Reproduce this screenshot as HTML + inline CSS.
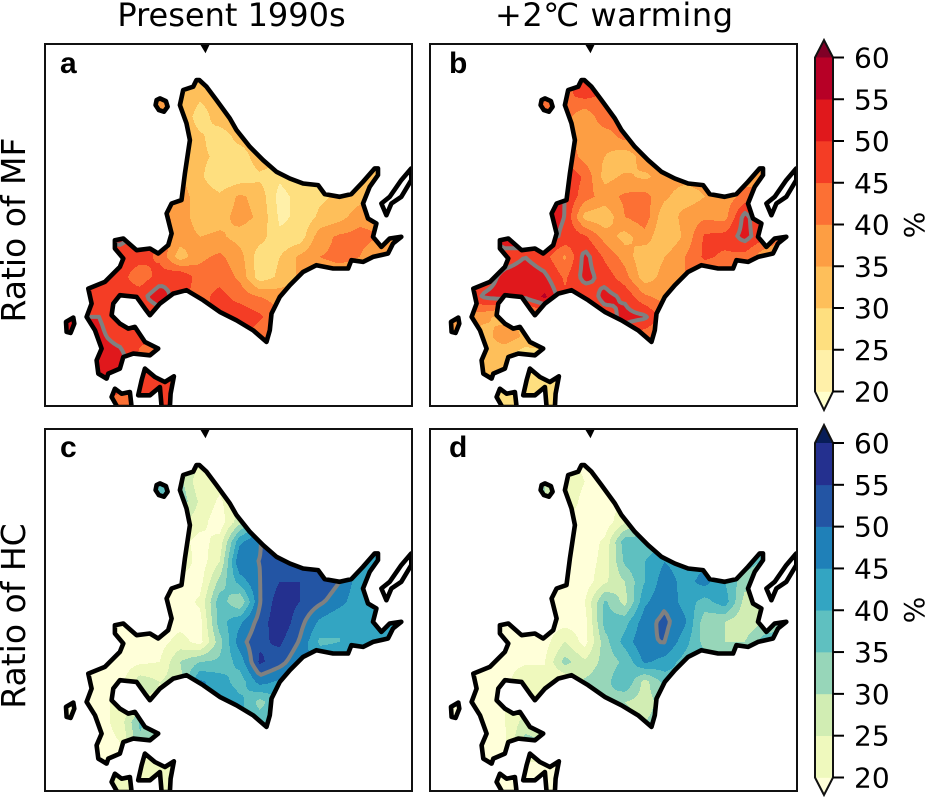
<!DOCTYPE html>
<html lang="en">
<head>
<meta charset="utf-8">
<title>Ratio of MF and HC, Present 1990s and +2°C warming</title>
<style>
html,body{margin:0;padding:0;background:#fff;width:925px;height:797px;overflow:hidden}
svg{display:block}
text{font-family:"DejaVu Sans","Liberation Sans",sans-serif;fill:#000}
</style>
</head>
<body>
<svg id="chart" xmlns="http://www.w3.org/2000/svg" width="925" height="797" viewBox="0 0 925 797">
  <text x="231.5" y="26" font-size="32" text-anchor="middle">Present 1990s</text>
  <text x="614" y="26" font-size="32" text-anchor="middle" textLength="238" lengthAdjust="spacing">+2℃ warming</text>
  <text transform="translate(25,230) rotate(-90)" font-size="33" text-anchor="middle">Ratio of MF</text>
  <text transform="translate(25,616) rotate(-90)" font-size="33" text-anchor="middle">Ratio of HC</text>
</svg>
<script>
// Grid axes of the gridded percentage fields (map units)
const gridOriginX = 120, gridStepX = 60;
const gridOriginY = 110, gridStepY = 60;

// Panel a: Ratio of MF, present 1990s (%)
const fieldA = [
[38,38,38,38,36,36,33,33,33,33,33,33,33,33,33,33,33],
[38,38,38,38,38,36,31,33,33,33,33,33,33,33,33,33,33],
[38,38,38,38,38,35,27,33,34,34,33,33,33,33,33,33,33],
[40,40,40,40,38,35,31,27,32,33,33,33,33,33,33,33,33],
[42,42,42,42,38,35,31,29,27,33,33,33,33,33,33,33,33],
[44,44,44,42,38,36,31,26,27,29,26,29,31,33,33,33,33],
[46,46,46,44,40,37,33,31,36,33,23,27,29,31,33,34,34],
[48,48,48,46,42,38,32,33,37,34,24,26,31,33,38,38,38],
[50,50,52,48,44,38,35,36,33,32,26,27,38,41,42,40,38],
[48,48,47,47,44,32,39,41,37,27,30,36,40,41,40,35,34],
[48,48,47,42,47,50,42,43,39,27,31,36,38,38,38,36,36],
[49,49,47,48,54,46,43,47,43,40,38,38,38,38,38,38,38],
[50,50,46,44,46,44,44,46,49,46,40,38,38,38,38,38,38],
[51,51,48,46,44,44,44,46,48,41,40,38,38,38,38,38,38],
[53,53,52,44,44,44,44,44,44,40,38,38,38,38,38,38,38],
[53,53,49,46,46,44,44,44,44,40,38,38,38,38,38,38,38],
[46,46,44,46,46,44,44,44,44,40,38,38,38,38,38,38,38],
[46,46,44,46,46,44,44,44,44,40,38,38,38,38,38,38,38]
];

// Panel b: Ratio of MF, +2C warming (%)
const fieldB = [
[40,40,40,40,40,44,48,46,44,40,38,38,38,38,38,38,38],
[40,40,40,40,40,44,46,44,42,40,38,38,38,38,38,38,38],
[40,40,40,40,40,42,36,44,42,40,38,38,38,38,38,38,38],
[40,40,40,40,42,42,37,37,42,40,38,38,38,38,38,38,38],
[42,42,42,42,44,44,38,35,31,38,38,38,38,38,38,38,38],
[44,44,44,44,50,50,44,33,36,34,37,37,37,37,38,38,38],
[46,46,46,48,52,50,42,38,41,42,36,32,35,37,42,42,42],
[46,46,46,48,52,50,33,31,40,43,31,37,39,38,52,44,42],
[48,48,54,50,52,49,46,38,33,38,30,36,46,47,52,46,40],
[46,46,47,50,47,39,52,44,38,31,35,40,46,44,43,36,34],
[46,47,52,53,51,44,52,48,42,32,37,40,40,40,40,36,34],
[46,51,52,51,56,46,46,52,49,41,38,38,38,38,38,36,34],
[38,36,33,35,40,44,44,47,52,51,42,38,38,38,38,36,34],
[34,33,38,34,34,38,42,44,46,41,40,38,38,38,38,36,34],
[34,34,30,26,28,30,32,34,36,38,38,38,38,38,38,36,34],
[32,32,30,28,28,28,28,30,32,34,36,36,36,36,36,36,34],
[28,28,28,30,27,27,28,30,32,34,36,36,36,36,36,36,34],
[28,28,28,30,27,27,28,30,32,34,36,36,36,36,36,36,34]
];

// Panel c: Ratio of HC, present 1990s (%)
const fieldC = [
[38,38,38,38,38,30,26,26,28,30,40,44,44,44,44,44,44],
[38,38,38,38,38,32,21,22,26,32,40,44,44,44,44,44,44],
[38,38,38,38,38,34,24,19,26,36,44,46,46,46,46,46,46],
[30,30,30,30,28,26,22,17,28,42,48,48,48,48,48,48,48],
[22,22,22,22,22,22,18,22,44,50,50,50,50,50,48,46,44],
[18,18,18,18,20,25,17,25,50,50,52,53,52,50,46,44,42],
[18,18,18,18,18,17,18,32,42,50,55,55,54,50,42,41,41],
[18,18,18,18,18,17,21,38,30,50,58,55,51,47,41,40,40],
[18,18,18,18,18,18,18,38,44,52,59,52,44,40,41,40,40],
[18,18,18,18,18,22,18,33,48,54,56,49.5,39,40,42,42,42],
[18,18,17,19,20,30,35,36,42,56,52,46,44,44,44,42,42],
[18,18,18,28,25,28,46,43,37,47,44,44,44,44,44,42,42],
[20,20,20,24,24,34,44,46,42,33,40,42,42,42,42,42,42],
[18,18,22,36,30,34,42,44,40,38,38,38,38,38,38,38,38],
[18,18,20,34,32,30,36,38,38,36,36,36,36,36,36,36,36],
[18,18,19,22,24,26,30,32,34,34,34,34,34,34,34,34,34],
[20,20,22,23,23,24,28,30,32,34,34,34,34,34,34,34,34],
[20,20,22,23,23,24,28,30,32,34,34,34,34,34,34,34,34]
];

// Panel d: Ratio of HC, +2C warming (%)
const fieldD = [
[30,30,30,30,30,24,18,18,20,24,30,34,34,34,34,34,34],
[30,30,30,30,30,24,20,20,22,26,32,36,36,36,36,36,36],
[30,30,30,30,30,24,18,18,20,30,34,38,38,38,38,38,38],
[24,24,24,24,22,20,17,17,24,32,36,38,38,38,38,38,38],
[18,18,18,18,18,18,17,21,38,37,38,40,40,40,38,36,36],
[18,18,18,18,18,18,17,22,36,40,45,42,44,42,38,34,34],
[18,18,18,18,18,18,17,24,30,40,48,43,47,40,32,30,30],
[18,18,18,18,18,17,20,36,28,44,49,43,38,43,28,28,28],
[18,18,18,18,18,18,18,37,38,48,51.5,46,32,30,26,30,32],
[18,18,18,17,18,25,18,33,42,49.5,50.2,42,33,30,30,38,40],
[18,18,18,19,20,32,26,32,36,46,43,38,38,38,38,38,38],
[18,18,18,25,20,20,31,33,40,28,37,38,38,38,38,38,38],
[20,20,20,22,22,26,32,35,30,28,32,36,36,36,36,36,36],
[18,18,20,27,26,28,32,34,32,30,32,34,34,34,34,34,34],
[18,18,19,32,30,28,30,30,30,30,30,30,30,30,30,30,30],
[18,18,18,20,20,20,22,24,26,26,28,28,28,28,28,28,28],
[18,18,18,19,19,20,22,24,26,26,28,28,28,28,28,28,28],
[18,18,18,19,19,20,22,24,26,26,28,28,28,28,28,28,28]
];

// Colour scale: contour levels, tick labels and palettes
const levels = [20,25,30,35,40,45,50,55,60];
const tickLabels = ["20","25","30","35","40","45","50","55","60"];
const contourLevel = 50;
const paletteMF = ["#ffffcc","#fff0a9","#fedf7f","#febf5a","#fd9e43","#fc7034","#f43d25","#e0181c","#b70026","#800026"];
const paletteHC = ["#ffffd9","#eff9bd","#d1edb3","#97d6b9","#5fc0c0","#33a5c2","#1f80b8","#2355a4","#24308f","#081d58"];

// Coastlines (map units)
const coastMain = [[478,120],[500,140],[530,180],[570,235],[590,270],[630,320],[670,360],[710,395],[750,415],[790,430],[835,435],[855,462],[900,470],[935,462],[970,425],[1005,385],[1015,385],[1015,405],[990,440],[970,490],[985,535],[1010,550],[1000,590],[1025,620],[1050,595],[1085,590],[1060,610],[1045,640],[1000,650],[970,665],[935,660],[925,685],[880,685],[830,675],[790,695],[750,735],[720,770],[695,820],[690,870],[680,905],[640,870],[590,840],[540,815],[490,780],[440,750],[400,760],[360,790],[330,825],[315,805],[290,770],[240,765],[220,790],[215,825],[240,850],[265,865],[285,860],[315,905],[355,925],[330,945],[280,940],[250,950],[240,985],[205,1000],[200,1015],[175,1000],[170,960],[185,925],[165,870],[140,830],[155,790],[145,745],[195,725],[240,680],[250,655],[225,625],[225,600],[250,595],[290,630],[330,625],[355,640],[385,615],[395,580],[380,520],[395,490],[425,480],[435,400],[450,300],[440,250],[420,195],[430,150],[460,140],[470,120]];
const coastRishiri = [[360,175],[378,183],[383,200],[372,215],[357,210],[347,195],[350,180]];
const coastOkushiri = [[100,832],[103,850],[92,878],[80,875],[78,845]];
const coastHonshuEast = [[315,985],[345,1010],[375,1025],[402,1008],[392,1060],[390,1100],[365,1100],[360,1040],[330,1065],[295,1065],[305,1020]];
const coastHonshuWest = [[225,1045],[245,1060],[270,1055],[275,1100],[232,1100],[215,1070]];
const coastKuril = [[1115,385],[1085,420],[1050,470],[1025,490],[1040,525],[1055,490],[1085,470],[1115,420]];
const coastSakhalinTip = [[480,12],[510,12],[497,40]];

const panelDefs = [
  {label:"a", field:fieldA, palette:paletteMF, x:45,  y:44,  lx:60,  ly:73},
  {label:"b", field:fieldB, palette:paletteMF, x:430, y:44,  lx:449, ly:73},
  {label:"c", field:fieldC, palette:paletteHC, x:45,  y:429, lx:60,  ly:457},
  {label:"d", field:fieldD, palette:paletteHC, x:430, y:429, lx:449, ly:457}
];
const colorbarDefs = [
  {name:"mf", palette:paletteMF, x:815, w:18, y60:57.5, y20:391.5, top:40,  bottom:410, pctY:225},
  {name:"hc", palette:paletteHC, x:815, w:18, y60:443,  y20:777.5, top:425, bottom:795, pctY:610}
];

const panelW = 367, panelH = 362;
const NS = "http://www.w3.org/2000/svg";
const svg = document.getElementById("chart");

function make(tag, attrs, parent){
  const el = document.createElementNS(NS, tag);
  for(const k in attrs) el.setAttribute(k, attrs[k]);
  (parent||svg).appendChild(el);
  return el;
}
function mapX(m){ return (m-15)*panelW/1102; }
function mapY(m){ return (m-12)*panelH/1085; }
function invX(p){ return p*1102/panelW+15; }
function invY(p){ return p*1085/panelH+12; }
function pathOf(pts, close){
  return pts.map(function(p,i){return (i?"L":"M")+mapX(p[0]).toFixed(1)+" "+mapY(p[1]).toFixed(1);}).join("")+(close?"Z":"");
}
function sample(field, mx, my){
  const fx = Math.max(0, Math.min(field[0].length-1.001, (mx-gridOriginX)/gridStepX));
  const fy = Math.max(0, Math.min(field.length-1.001, (my-gridOriginY)/gridStepY));
  const i = Math.floor(fx), j = Math.floor(fy), u = fx-i, v = fy-j;
  return field[j][i]*(1-u)*(1-v)+field[j][i+1]*u*(1-v)+field[j+1][i]*(1-u)*v+field[j+1][i+1]*u*v;
}
function bandIndex(v){
  let b = 0;
  while(b < levels.length && v >= levels[b]) b++;
  return b;
}
function contourPath(field, level){
  const s = 3; let d = "";
  function lerp(a,b){ return (level-a)/(b-a); }
  for(let py=0; py<panelH; py+=s){
    for(let px=0; px<panelW; px+=s){
      const a = sample(field,invX(px),invY(py)), b = sample(field,invX(px+s),invY(py)),
            c = sample(field,invX(px+s),invY(py+s)), e = sample(field,invX(px),invY(py+s));
      const pts = [];
      if((a>=level)!==(b>=level)) pts.push([px+s*lerp(a,b),py]);
      if((b>=level)!==(c>=level)) pts.push([px+s,py+s*lerp(b,c)]);
      if((e>=level)!==(c>=level)) pts.push([px+s*lerp(e,c),py+s]);
      if((a>=level)!==(e>=level)) pts.push([px,py+s*lerp(a,e)]);
      for(let k=0; k+1<pts.length; k+=2){
        d += "M"+pts[k][0].toFixed(1)+" "+pts[k][1].toFixed(1)+"L"+pts[k+1][0].toFixed(1)+" "+pts[k+1][1].toFixed(1);
      }
    }
  }
  return d;
}

panelDefs.forEach(function(panel){
  const g = make("g",{transform:"translate("+panel.x+","+panel.y+")"});
  
  

  const defs = make("defs",{},g);
  const landClip = make("clipPath",{id:"land-"+panel.label},defs);
  const landShapes = [coastMain,coastRishiri,coastOkushiri,coastHonshuEast,coastHonshuWest];
  make("path",{d:landShapes.map(function(s){return pathOf(s,true);}).join("")},landClip);
  const frameClip = make("clipPath",{id:"frame-"+panel.label},defs);
  make("rect",{x:0,y:0,width:panelW,height:panelH},frameClip);

  const inner = make("g",{"clip-path":"url(#frame-"+panel.label+")"},g);
  const land = make("g",{"clip-path":"url(#land-"+panel.label+")"},inner);

  const runs = panel.palette.map(function(){return [];});
  for(let py=0; py<panelH; py++){
    let start = 0, cur = bandIndex(sample(panel.field,invX(0.5),invY(py+0.5)));
    for(let px=1; px<=panelW; px++){
      const b = px<panelW ? bandIndex(sample(panel.field,invX(px+0.5),invY(py+0.5))) : -1;
      if(b!==cur){
        runs[cur].push("M"+start+" "+py+"h"+(px-start)+"v1h"+(start-px)+"z");
        start = px; cur = b;
      }
    }
  }
  runs.forEach(function(r,idx){
    if(!r.length) return;
    const band = make("path",{d:r.join(""),fill:panel.palette[idx],"shape-rendering":"crispEdges"},land);
    
    
  });

  const gray = make("path",{d:contourPath(panel.field,contourLevel),fill:"none",stroke:"#808080","stroke-width":4,"stroke-linecap":"round"},land);
  
  

  const coastD = landShapes.map(function(s){return pathOf(s,true);}).join("")+pathOf(coastKuril,true);
  const coast = make("path",{d:coastD,fill:"none",stroke:"#000","stroke-width":4.6,"stroke-linejoin":"round"},inner);
  
  
  const tip = make("path",{d:pathOf(coastSakhalinTip,true),fill:"#000"},inner);
  
  

  const frame = make("rect",{x:0,y:0,width:panelW,height:panelH,fill:"none",stroke:"#111","stroke-width":2},g);
  
  

  const letter = make("text",{x:panel.lx,y:panel.ly,"font-size":30,"font-weight":"bold",style:"font-family:'Liberation Sans',sans-serif"});
  letter.textContent = panel.label;
  
  
});

colorbarDefs.forEach(function(cb){
  const g = make("g",{});
  
  
  const yOf = function(v){ return cb.y20+(v-levels[0])*(cb.y60-cb.y20)/(levels[levels.length-1]-levels[0]); };
  const cx = cb.x+cb.w/2;

  const under = make("polygon",{points:cb.x+","+cb.y20+" "+(cb.x+cb.w)+","+cb.y20+" "+cx+","+cb.bottom,fill:cb.palette[0]},g);
  
  
  const over = make("polygon",{points:cb.x+","+cb.y60+" "+(cb.x+cb.w)+","+cb.y60+" "+cx+","+cb.top,fill:cb.palette[cb.palette.length-1]},g);
  
  

  for(let i=0;i<levels.length-1;i++){
    const top = yOf(levels[i+1]), bot = yOf(levels[i]);
    const seg = make("rect",{x:cb.x,y:top,width:cb.w,height:bot-top+0.3,fill:cb.palette[i+1]},g);
    
    
  }
  const outlinePts = cb.x+","+cb.y20+" "+cx+","+cb.bottom+" "+(cb.x+cb.w)+","+cb.y20+" "+(cb.x+cb.w)+","+cb.y60+" "+cx+","+cb.top+" "+cb.x+","+cb.y60;
  const outline = make("polygon",{points:outlinePts,fill:"none",stroke:"#111","stroke-width":2},g);
  
  

  levels.forEach(function(v,i){
    const y = yOf(v);
    const tick = make("line",{x1:cb.x+cb.w,x2:cb.x+cb.w+11,y1:y,y2:y,stroke:"#000","stroke-width":2},g);
    
    
    const lab = make("text",{x:854,y:y+10,"font-size":28},g);
    lab.textContent = tickLabels[i];
    
    
  });
  const pct = make("text",{transform:"translate(924,"+cb.pctY+") rotate(-90)","font-size":28,"text-anchor":"middle"},g);
  pct.textContent = "%";
  
  
});
</script>
</body>
</html>
